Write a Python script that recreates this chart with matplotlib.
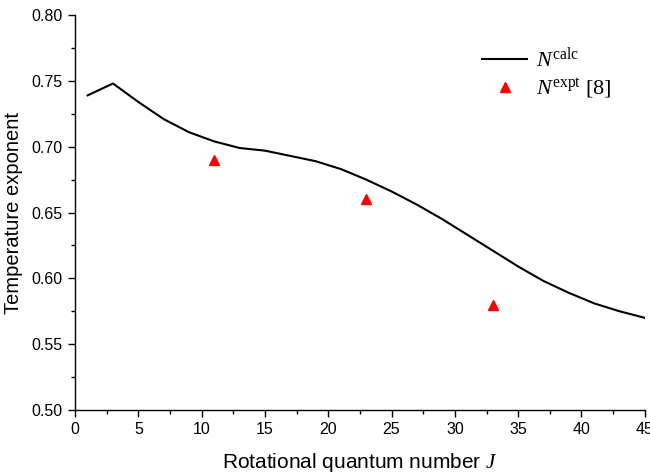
import numpy as np
import matplotlib as mpl
mpl.use('Agg')
import matplotlib.pyplot as plt
from matplotlib.ticker import MultipleLocator

plt.rcParams['font.family'] = ['Liberation Sans', 'DejaVu Sans']
plt.rcParams['mathtext.fontset'] = 'custom'
plt.rcParams['mathtext.rm'] = 'Liberation Serif'
plt.rcParams['mathtext.it'] = 'Liberation Serif:italic'

# calculated temperature exponent vs J
J_calc = [1, 3, 5, 7, 9, 11, 13, 15, 17, 19, 21, 23, 25, 27, 29, 31, 33, 35, 37, 39, 41, 43, 45]
N_calc = [0.739, 0.748, 0.734, 0.721, 0.711, 0.704, 0.699, 0.697, 0.693, 0.689, 0.683, 0.675,
          0.666, 0.656, 0.645, 0.633, 0.621, 0.609, 0.598, 0.589, 0.581, 0.575, 0.570]

# experimental values [8]
J_expt = [11, 23, 33]
N_expt = [0.690, 0.660, 0.580]

fig = plt.figure(figsize=(6.5, 4.73), dpi=100)
ax = fig.add_axes([0.1154, 0.1332, 0.8766, 0.835])

ax.plot(J_calc, N_calc, color='black', lw=1.5, label=r'$N^{\mathrm{calc}}$')
ax.plot(J_expt, N_expt, ls='none', marker='^', color='red', ms=7,
        label=r'$N^{\mathrm{expt}}$ [8]')

ax.set_xlim(0, 45)
ax.set_ylim(0.50, 0.80)
ax.xaxis.set_major_locator(MultipleLocator(5))
ax.xaxis.set_minor_locator(MultipleLocator(2.5))
ax.yaxis.set_major_locator(MultipleLocator(0.05))
ax.yaxis.set_minor_locator(MultipleLocator(0.025))
ax.yaxis.set_major_formatter(mpl.ticker.StrMethodFormatter('{x:.2f}'))
ax.tick_params(which='major', direction='out', length=5, width=1, labelsize=11.5, pad=4)
ax.tick_params(which='minor', direction='out', length=3, width=1)

ax.spines['top'].set_visible(False)
ax.spines['right'].set_visible(False)
ax.spines['left'].set_linewidth(1)
ax.spines['bottom'].set_linewidth(1)

ax.set_xlabel(r'Rotational quantum number $J$', fontsize=15, labelpad=10)
ax.set_ylabel('Temperature exponent', fontsize=14.5, labelpad=6)

leg = ax.legend(loc='upper left', bbox_to_anchor=(0.68, 0.972), frameon=False,
                prop={'family': 'Liberation Serif', 'size': 16}, handlelength=2.0,
                handletextpad=0.4, labelspacing=0.25)

plt.savefig('out.png', dpi=100)
